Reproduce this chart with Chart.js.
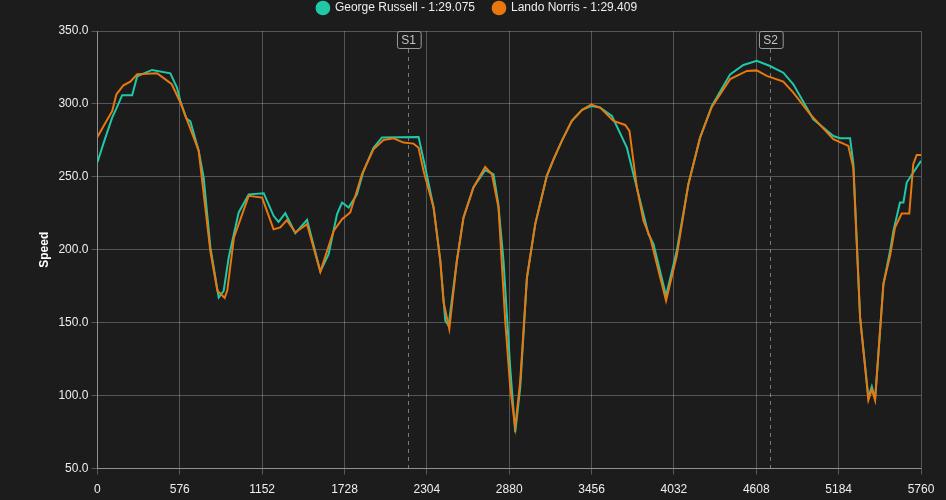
<!DOCTYPE html>
<html lang="en">
<head>
    <meta charset="UTF-8">
    <title>Speed Comparison</title>
    <script src="https://cdn.jsdelivr.net/npm/chart.js"></script>
    <style>
        html, body { margin: 0; padding: 0; background: #1c1c1c; }
        #wrap { width: 946px; height: 500px; }
    </style>
</head>
<body>
    <div id="wrap"><canvas id="speedChart"></canvas></div>

    <script>
        // Lap telemetry: distance (m) and speed (km/h)
        const russellDist = [0, 44, 103, 133, 173, 243, 278, 382, 510, 557, 580, 622, 650, 708, 743, 790, 848, 883, 918, 988,
            1058, 1163, 1232, 1267, 1314, 1384, 1466, 1559, 1617, 1676, 1711, 1757, 1815, 1861, 1931, 1990, 2246, 2293, 2351, 2398,
            2433, 2456, 2514, 2560, 2630, 2712, 2770, 2803, 2840, 2887, 2922, 2957, 3004, 3062, 3143, 3190, 3248, 3318, 3390, 3453,
            3516, 3598, 3703, 3749, 3854, 3889, 3977, 4052, 4133, 4215, 4297, 4425, 4518, 4611, 4704, 4797, 4867, 5007, 5147, 5194,
            5264, 5287, 5334, 5392, 5416, 5439, 5497, 5544, 5567, 5613, 5637, 5660, 5706, 5760];
        const russellSpeed = [260, 273.5, 290.6, 297, 306, 306, 319, 323.3, 321, 311, 302, 290, 288, 268, 249.5, 201.6, 167.3, 171.9, 194.7, 225.6,
            238, 238.8, 223.3, 219.2, 225.1, 211.4, 220.5, 185.2, 197, 224.5, 232.4, 229, 238, 254, 270, 277, 277.4, 256.4, 229, 192.5,
            151.4, 148, 192.5, 222, 243, 254.6, 251.8, 232, 192.5, 119, 74.9, 105.7, 181, 217.6, 250.7, 262, 274.7, 288.4, 296, 298.6,
            297.5, 291.8, 270, 251.8, 210.7, 203.9, 168.5, 199.3, 245, 276.9, 298.6, 320.3, 326.7, 329.5, 326, 321.4, 313.5, 289.5, 278, 276.5,
            276.5, 258.7, 153.6, 98.9, 106.2, 97.7, 176.5, 199.3, 213, 232.4, 232.4, 246.1, 253, 261];

        const norrisDist = [0, 44, 103, 133, 182, 230, 278, 417, 473, 520, 580, 708, 790, 839, 890, 908, 955, 1058, 1152, 1232,
            1279, 1325, 1384, 1466, 1559, 1652, 1711, 1768, 1850, 1931, 2001, 2071, 2141, 2211, 2246, 2281, 2351, 2398, 2421, 2461,
            2514, 2560, 2630, 2712, 2759, 2805, 2852, 2887, 2922, 2957, 3004, 3062, 3143, 3190, 3248, 3318, 3390, 3453, 3516, 3609,
            3691, 3721, 3773, 3819, 3866, 3977, 4052, 4133, 4215, 4297, 4425, 4542, 4611, 4681, 4797, 4867, 4984, 5147, 5252, 5287,
            5334, 5392, 5416, 5439, 5497, 5544, 5578, 5625, 5678, 5706, 5730, 5760];
        const norrisSpeed = [277.4, 285, 295, 306.6, 312.8, 315.3, 320.3, 321, 317, 313.5, 301, 268, 199, 172, 167, 172, 208.5, 237, 235.8, 214,
            215.3, 220.3, 211.9, 217.6, 185, 213, 221, 225.6, 251.8, 269, 275.3, 276.5, 273.5, 272.8, 270, 254, 229, 192.5, 164, 145.7,
            192.5, 222, 242.7, 256.8, 251.8, 229, 151.4, 105.7, 78.3, 110, 181, 217.6, 250.7, 262, 274.7, 288.4, 296, 299.5, 297.5, 288.4,
            285.6, 281.5, 242.7, 220, 208.4, 165, 196, 245, 277, 298, 317, 322.6, 323, 319.2, 315.3, 307.8, 293, 275.8, 271.2, 256,
            153.6, 97, 104.5, 97, 176.5, 196, 215.3, 224.9, 224.9, 258.7, 265, 265];

        const driverLabels = ['George Russell - 1:29.075', 'Lando Norris - 1:29.409'];
        const driverColors = ['#1fc9a8', '#e8770f'];

        const sectorNames = ['S1', 'S2'];
        const sectorDist = [2174, 4705];

        const xTicks = [0, 576, 1152, 1728, 2304, 2880, 3456, 4032, 4608, 5184, 5760];
        const yTicks = [50, 100, 150, 200, 250, 300, 350];

        function toPoints(dist, speed) {
            return dist.map((d, i) => ({ x: d, y: speed[i] }));
        }

        // paints the dark background and the sector markers
        const sectorPlugin = {
            id: 'sectors',
            beforeInit(chart) {
                // extra room under the legend
                const fit = chart.legend.fit;
                chart.legend.fit = function () {
                    fit.call(this);
                    this.height += 7;
                };
            },
            beforeDraw(chart) {
                const ctx = chart.ctx;
                ctx.save();
                ctx.fillStyle = '#1c1c1c';
                ctx.fillRect(0, 0, chart.width, chart.height);
                ctx.restore();
            },
            beforeDatasetsDraw(chart) {
                const ctx = chart.ctx;
                const area = chart.chartArea;
                const xs = chart.scales.x;
                ctx.save();
                sectorDist.forEach((d, i) => {
                    const px = Math.round(xs.getPixelForValue(d)) + 0.5;
                    ctx.strokeStyle = 'rgba(160,160,160,0.7)';
                    ctx.lineWidth = 1;
                    ctx.setLineDash([4, 4]);
                    ctx.beginPath();
                    ctx.moveTo(px, area.top + 18);
                    ctx.lineTo(px, area.bottom);
                    ctx.stroke();
                    ctx.setLineDash([]);
                    ctx.font = '12px "Liberation Sans", Arial, sans-serif';
                    const w = ctx.measureText(sectorNames[i]).width + 9;
                    const h = 17;
                    const bx = Math.round(px - w / 2) + 0.5;
                    const by = area.top + 0.5;
                    ctx.beginPath();
                    ctx.roundRect(bx, by, w, h, 2);
                    ctx.fillStyle = '#1c1c1c';
                    ctx.fill();
                    ctx.strokeStyle = 'rgba(175,175,175,0.85)';
                    ctx.stroke();
                    ctx.fillStyle = '#c4c4c4';
                    ctx.textAlign = 'center';
                    ctx.textBaseline = 'middle';
                    ctx.fillText(sectorNames[i], px, by + h / 2 + 0.5);
                });
                ctx.restore();
            }
        };

        Chart.defaults.font.family = '"Liberation Sans", Arial, sans-serif';
        Chart.defaults.font.size = 12;
        Chart.defaults.color = '#eeeeee';

        new Chart(document.getElementById('speedChart'), {
            type: 'line',
            data: {
                datasets: [
                    {
                        label: driverLabels[0],
                        data: toPoints(russellDist, russellSpeed),
                        borderColor: driverColors[0],
                        backgroundColor: driverColors[0],
                        borderWidth: 2,
                        pointRadius: 0,
                        tension: 0,
                        order: 1
                    },
                    {
                        label: driverLabels[1],
                        data: toPoints(norrisDist, norrisSpeed),
                        borderColor: driverColors[1],
                        backgroundColor: driverColors[1],
                        borderWidth: 2,
                        pointRadius: 0,
                        tension: 0,
                        order: 0
                    }
                ]
            },
            options: {
                responsive: true,
                maintainAspectRatio: false,
                animation: false,
                layout: { padding: { left: 33, right: 25, top: -16, bottom: -4 } },
                plugins: {
                    legend: {
                        position: 'top',
                        labels: {
                            usePointStyle: true,
                            pointStyle: 'circle',
                            boxWidth: 12,
                            boxHeight: 9,
                            padding: 18,
                            color: '#eeeeee',
                            sort: (a, b) => a.datasetIndex - b.datasetIndex
                        }
                    },
                    tooltip: { enabled: false }
                },
                scales: {
                    x: {
                        type: 'linear',
                        min: 0,
                        max: 5760,
                        afterBuildTicks(axis) { axis.ticks = xTicks.map(v => ({ value: v })); },
                        afterFit(axis) { axis.height -= 1; },
                        ticks: { color: '#eeeeee', padding: 8, callback: v => String(v) },
                        grid: { color: 'rgba(255,255,255,0.25)', tickLength: 6 },
                        border: { color: 'rgba(255,255,255,0.35)' }
                    },
                    y: {
                        min: 50,
                        max: 350,
                        afterBuildTicks(axis) { axis.ticks = yTicks.map(v => ({ value: v })); },
                        ticks: { color: '#eeeeee', padding: 3, callback: v => v.toFixed(1) },
                        grid: { color: 'rgba(255,255,255,0.25)', tickLength: 6 },
                        border: { color: 'rgba(255,255,255,0.35)' },
                        title: { display: true, text: 'Speed', color: '#ffffff', font: { weight: 'bold', size: 12 } }
                    }
                }
            },
            plugins: [sectorPlugin]
        });
    </script>
</body>
</html>
